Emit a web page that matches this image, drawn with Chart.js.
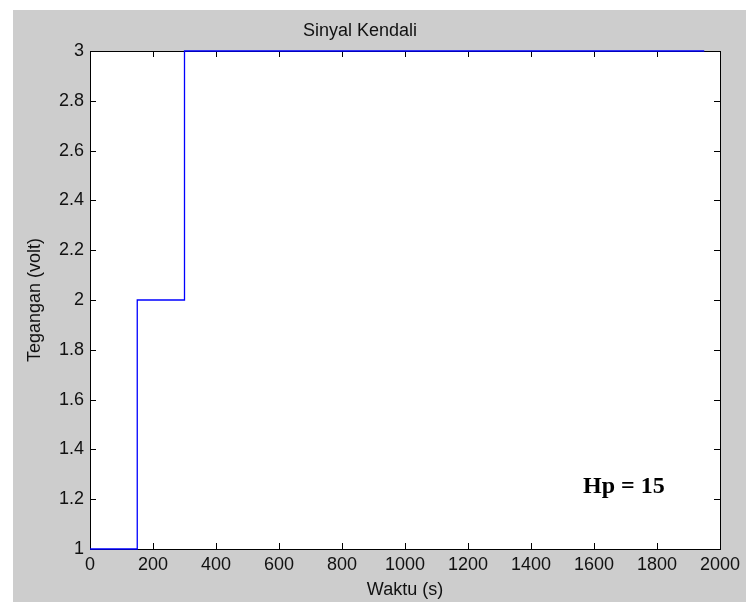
<!DOCTYPE html>
<html>
<head>
<meta charset="utf-8">
<script src="https://cdn.jsdelivr.net/npm/chart.js@4"></script>
<style>
  html, body { margin: 0; padding: 0; background: #fff; }
  #wrap { width: 746px; height: 602px; }
</style>
</head>
<body>
<div id="wrap"><canvas id="chart" width="746" height="602"></canvas></div>
<script>
// waktu (s) and sinyal kendali (volt)
const waktu = [0, 150, 300, 450, 600, 750, 900, 1050, 1200, 1350, 1500, 1650, 1800, 1950];
const tegangan = [1, 2, 3, 3, 3, 3, 3, 3, 3, 3, 3, 3, 3, 3];
const xTicks = [0, 200, 400, 600, 800, 1000, 1200, 1400, 1600, 1800, 2000];
const yTicks = [1, 1.2, 1.4, 1.6, 1.8, 2, 2.2, 2.4, 2.6, 2.8, 3];
const label = "Hp = 15";

const fontName = "'Liberation Sans', Arial, sans-serif";

// gray figure + white axes, box and inward ticks like matlab
const matlabBox = {
  id: 'matlabBox',
  beforeDraw(chart) {
    const ctx = chart.ctx;
    const a = chart.chartArea;
    ctx.save();
    ctx.fillStyle = '#fff';
    ctx.fillRect(0, 0, chart.width, chart.height);
    ctx.fillStyle = '#cdcdcd';
    ctx.fillRect(13, 10, chart.width - 13, chart.height - 10);
    ctx.fillStyle = '#fff';
    ctx.fillRect(a.left, a.top, a.right - a.left, a.bottom - a.top);
    ctx.restore();
  },
  beforeDatasetsDraw(chart) {
    const ctx = chart.ctx;
    const a = chart.chartArea;
    const xs = chart.scales.x, ys = chart.scales.y;
    ctx.save();
    ctx.strokeStyle = '#000';
    ctx.lineWidth = 1;
    ctx.beginPath();
    xTicks.forEach(v => {
      const px = Math.round(xs.getPixelForValue(v)) + 0.5;
      ctx.moveTo(px, a.bottom); ctx.lineTo(px, a.bottom - 6);
      ctx.moveTo(px, a.top); ctx.lineTo(px, a.top + 6);
    });
    yTicks.forEach(v => {
      const py = Math.round(ys.getPixelForValue(v)) + 0.5;
      ctx.moveTo(a.left, py); ctx.lineTo(a.left + 6, py);
      ctx.moveTo(a.right, py); ctx.lineTo(a.right - 6, py);
    });
    ctx.stroke();
    ctx.strokeRect(Math.round(a.left) + 0.5, Math.round(a.top) + 0.5,
      Math.round(a.right - a.left), Math.round(a.bottom - a.top));
    ctx.restore();
  },
  afterDatasetsDraw(chart) {
    const ctx = chart.ctx;
    const xs = chart.scales.x, ys = chart.scales.y;
    ctx.save();
    ctx.fillStyle = '#000';
    ctx.font = "bold 24px 'Liberation Serif', 'Times New Roman', serif";
    ctx.textAlign = 'left';
    ctx.textBaseline = 'alphabetic';
    ctx.fillText(label, xs.getPixelForValue(1565), ys.getPixelForValue(1.225));
    ctx.restore();
  }
};

new Chart(document.getElementById('chart'), {
  type: 'line',
  data: {
    datasets: [{
      label: 'Sinyal Kendali',
      data: waktu.map((t, i) => ({ x: t, y: tegangan[i] })),
      borderColor: '#0000ff',
      borderWidth: 1.3,
      pointRadius: 0,
      stepped: 'before',
      fill: false,
      clip: 4
    }]
  },
  options: {
    responsive: false,
    animation: false,
    layout: { padding: { left: 0, right: 26, top: 0, bottom: 0 } },
    plugins: {
      legend: { display: false },
      tooltip: { enabled: false },
      title: {
        display: true,
        text: 'Sinyal Kendali',
        color: '#111',
        font: { family: fontName, size: 18, weight: 'normal' },
        padding: { top: 20, bottom: 9.4 }
      }
    },
    scales: {
      x: {
        type: 'linear',
        min: 0, max: 2000,
        afterBuildTicks: s => { s.ticks = xTicks.map(v => ({ value: v })); },
        afterFit: s => { s.height = 53; },
        grid: { display: false, drawTicks: false },
        border: { display: false },
        ticks: {
          color: '#111', padding: 5, font: { family: fontName, size: 18 },
          maxRotation: 0, autoSkip: false, callback: v => String(v)
        },
        title: {
          display: true, text: 'Waktu (s)', color: '#111',
          font: { family: fontName, size: 18 }, padding: { top: 0, bottom: 1 }
        }
      },
      y: {
        type: 'linear',
        min: 1, max: 3,
        afterBuildTicks: s => { s.ticks = yTicks.map(v => ({ value: v })); },
        afterFit: s => { s.width = 90; },
        grid: { display: false, drawTicks: false },
        border: { display: false },
        ticks: {
          color: '#111', padding: 6, font: { family: fontName, size: 18 },
          autoSkip: false, callback: v => String(Math.round(v * 10) / 10)
        },
        title: {
          display: true, text: 'Tegangan (volt)', color: '#111',
          font: { family: fontName, size: 18 }, padding: { top: 24, bottom: 0 }
        }
      }
    }
  },
  plugins: [matlabBox]
});
</script>
</body>
</html>
